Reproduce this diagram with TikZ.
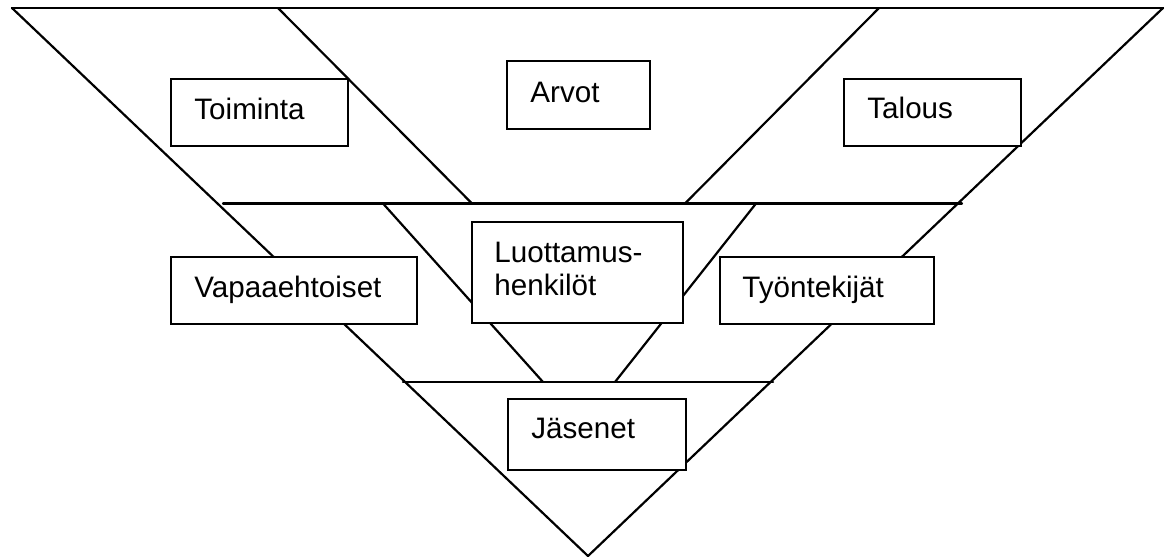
\documentclass[tikz,border=0pt]{standalone}
\usepackage{fontspec}
\setmainfont{Liberation Sans}
\usetikzlibrary{fit}
\begin{document}
\begin{tikzpicture}[x=0.5pt,y=-0.5pt,
  rule/.style={draw=black, line width=1.1pt, line cap=round},
  box/.style={draw=black, line width=1.1pt, fill=white, rectangle, inner sep=0pt},
  lbl/.style={anchor=base west, inner sep=0pt, text=black,
    font=\fontsize{14.8}{17}\selectfont}]
\useasboundingbox (0,0) rectangle (1168,558);

% outer inverted triangle
\coordinate (tl) at (12,8);
\coordinate (tr) at (1163,8);
\coordinate (apex) at (588,556);
% upper dividers
\coordinate (ula) at (278,8);   \coordinate (ulb) at (472,203.5);
\coordinate (ura) at (879,8);   \coordinate (urb) at (685,203.5);
% first horizontal
\coordinate (h1a) at (223,203.5); \coordinate (h1b) at (962,203.5);
% middle dividers
\coordinate (mla) at (383,203.5); \coordinate (mlb) at (543,382);
\coordinate (mra) at (756,203.5); \coordinate (mrb) at (615,382);
% second horizontal
\coordinate (h2a) at (403,382); \coordinate (h2b) at (773,382);

\draw[rule] (tl) -- (tr);
\draw[rule] (tl) -- (apex);
\draw[rule] (tr) -- (apex);
\draw[rule] (ula) -- (ulb);
\draw[rule] (ura) -- (urb);
\draw[rule] (h1a) -- (h1b);
\draw[rule] (mla) -- (mlb);
\draw[rule] (mra) -- (mrb);
\draw[rule] (h2a) -- (h2b);

% label boxes
\node[box, fit={(171,79) (348,146)}] (toimintabox) {};
\node[box, fit={(507,61) (650,129)}] (arvotbox) {};
\node[box, fit={(844,79) (1021,146)}] (talousbox) {};
\node[box, fit={(171,257) (417,324)}] (vapaabox) {};
\node[box, fit={(472,222) (683,323)}] (luottbox) {};
\node[box, fit={(720,257) (934,324)}] (tyobox) {};
\node[box, fit={(508,399) (686,470)}] (jasenbox) {};

% labels
\node[lbl] (toiminta) at (194,119) {Toiminta};
\node[lbl] (arvot) at (530,102) {Arvot};
\node[lbl] (talous) at (867,118) {Talous};
\node[lbl] (vapaa) at (194,297) {Vapaaehtoiset};
\node[lbl] (luott1) at (494,262) {Luottamus-};
\node[lbl] (luott2) at (494,295) {henkilöt};
\node[lbl] (tyo) at (742,297) {Työntekijät};
\node[lbl] (jasen) at (531,438) {Jäsenet};
\end{tikzpicture}
\end{document}
